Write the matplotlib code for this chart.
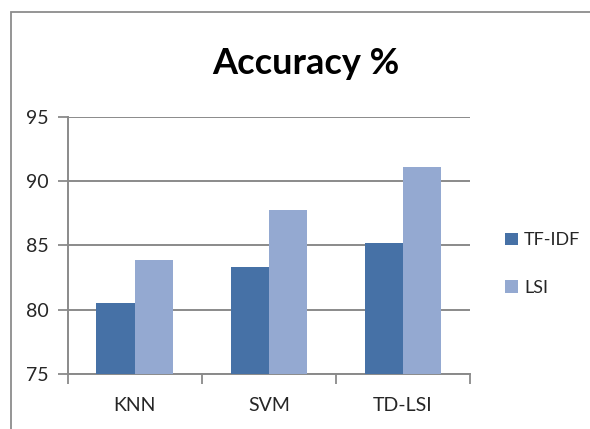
import matplotlib
matplotlib.use("Agg")
import matplotlib.pyplot as plt
from matplotlib.patches import Rectangle
import numpy as np

categories = ["KNN", "SVM", "TD-LSI"]
tfidf = [80.5, 83.3, 85.2]
lsi = [83.9, 87.8, 91.1]
series_names = ["TF-IDF", "LSI"]
yticks = [75, 80, 85, 90, 95]

plt.rcParams['font.family'] = ['Lato', 'DejaVu Sans']

fig = plt.figure(figsize=(5.9, 4.29), dpi=100)
fig.patch.set_facecolor('white')

# chart frame
fig.add_artist(Rectangle((10.5 / 590, -0.1), 1.2, 1 - 12.5 / 429 + 0.1,
                         transform=fig.transFigure, fill=False,
                         edgecolor='#8c8c8c', linewidth=1.3))

ax = fig.add_axes([67.7 / 590, 1 - 374 / 429, (470 - 67.7) / 590, (374 - 117) / 429])

x = np.arange(len(categories))
w = 1 / 3.5
dark = '#4671a6'
light = '#94a9d1'
ax.bar(x - w / 2, tfidf, width=w, color=dark, label=series_names[0], zorder=3)
ax.bar(x + w / 2, lsi, width=w, color=light, label=series_names[1], zorder=3)

ax.set_ylim(75, 95)
ax.set_xlim(-0.5, len(categories) - 0.5)
ax.set_yticks(yticks)
ax.set_yticklabels([str(v) for v in yticks], fontsize=14, color='#262626')
ax.yaxis.grid(True, color='#8a8a8a', linewidth=1.4, zorder=0)
ax.set_axisbelow(True)

# category labels between boundary ticks
ax.set_xticks(np.arange(len(categories) + 1) - 0.5)
ax.set_xticklabels([])
ax.set_xticks(x, minor=True)
ax.set_xticklabels(categories, minor=True, fontsize=14, color='#262626')
ax.tick_params(axis='x', which='minor', length=0, pad=16.5)
ax.tick_params(axis='x', which='major', length=7, width=1.3, color='#8a8a8a', direction='out')
ax.tick_params(axis='y', length=7, width=1.3, color='#8a8a8a', direction='out', pad=7)

for s in ['top', 'right']:
    ax.spines[s].set_visible(False)
for s in ['left', 'bottom']:
    ax.spines[s].set_color('#8a8a8a')
    ax.spines[s].set_linewidth(1.4)

fig.text(306 / 590, 1 - 73.5 / 429, "Accuracy %", ha='center', va='baseline',
         fontsize=26, fontweight='bold', color='black')

leg = ax.legend(loc='center left', frameon=False,
                fontsize=13, handlelength=0.7, handleheight=0.7,
                handletextpad=0.35, labelspacing=1.75, labelcolor='#262626')
leg.set_bbox_to_anchor((1.047, 0.427), transform=ax.transAxes)

fig.savefig("out.png", dpi=100)
